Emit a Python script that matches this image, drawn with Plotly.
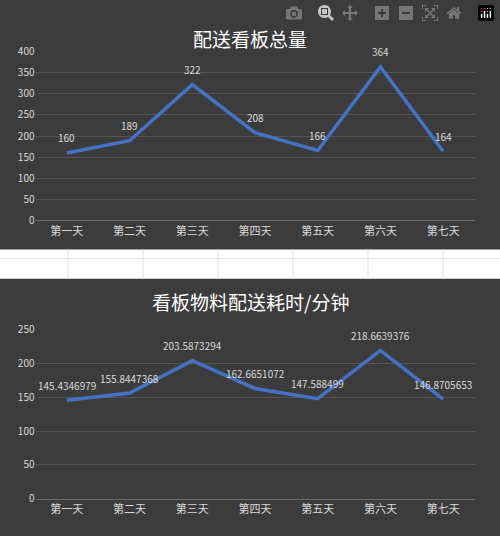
import plotly.graph_objects as go

days = ["第一天", "第二天", "第三天", "第四天", "第五天", "第六天", "第七天"]
total = [160, 189, 322, 208, 166, 364, 164]
minutes = [145.4346979, 155.8447368, 203.5873294, 162.6651072, 147.588499, 218.6639376, 146.8705653]
title1 = "配送看板总量"
title2 = "看板物料配送耗时/分钟"

H = 536
def fy(px):
    return 1 - px / H

font = "Noto Sans CJK SC"
fig = go.Figure()
fig.add_trace(go.Scatter(x=days, y=total, mode="lines",
                         line=dict(color="#4472c4", width=3.5), xaxis="x", yaxis="y"))
fig.add_trace(go.Scatter(x=days, y=minutes, mode="lines",
                         line=dict(color="#4472c4", width=3.5), xaxis="x2", yaxis="y2"))

for xr, yr, vals in [("x", "y", total), ("x2", "y2", minutes)]:
    for d, v in zip(days, vals):
        fig.add_annotation(x=d, y=v, xref=xr, yref=yr, text=str(v), showarrow=False,
                           yshift=15, font=dict(color="#d9d9d9", size=10, family=font))

ax = dict(showgrid=False, zeroline=False, showline=True, linecolor="#6a6a6a",
          tickfont=dict(color="#d9d9d9", size=11), ticks="", range=[-0.5, 6.5], domain=[0.071, 0.949])
ay = dict(showgrid=True, gridcolor="#555555", zeroline=False, tickfont=dict(color="#d9d9d9", size=10))
fig.update_layout(
    width=500, height=536, margin=dict(l=0, r=0, t=0, b=0),
    paper_bgcolor="#3c3c3c", plot_bgcolor="rgba(0,0,0,0)", showlegend=False,
    font=dict(family=font),
    xaxis=dict(ax, anchor="y"),
    yaxis=dict(ay, range=[0, 400], dtick=50, domain=[fy(218), fy(44)], anchor="x"),
    xaxis2=dict(ax, anchor="y2"),
    yaxis2=dict(ay, range=[0, 250], dtick=50, domain=[fy(505), fy(330)], anchor="x2"),
)
shapes = [dict(type="rect", xref="paper", yref="paper", x0=0, x1=1, y0=fy(278), y1=fy(248),
               fillcolor="white", line=dict(width=0), layer="above")]
shapes.append(dict(type="line", xref="paper", yref="paper", x0=0, x1=1, y0=fy(257), y1=fy(257),
                   line=dict(color="#e0e0e0", width=1), layer="above"))
for px in [68, 143, 218, 293, 368, 443]:
    shapes.append(dict(type="line", xref="paper", yref="paper", x0=px/500, x1=px/500, y0=fy(278), y1=fy(248),
                       line=dict(color="#e0e0e0", width=1), layer="above"))
fig.update_layout(shapes=shapes)
fig.add_annotation(text=title1, xref="paper", yref="paper", x=0.5, y=fy(14), showarrow=False,
                   font=dict(size=19, color="white", family=font))
fig.add_annotation(text=title2, xref="paper", yref="paper", x=0.5, y=fy(302), showarrow=False,
                   font=dict(size=19, color="white", family=font))
fig.write_html("out.html")
with open("out.html", encoding="utf-8") as f:
    html = f.read()
html = html.replace("<head>", "<head><style>html,body{margin:0;padding:0;overflow:hidden;background:#3c3c3c}</style>", 1)
with open("out.html", "w", encoding="utf-8") as f:
    f.write(html)
